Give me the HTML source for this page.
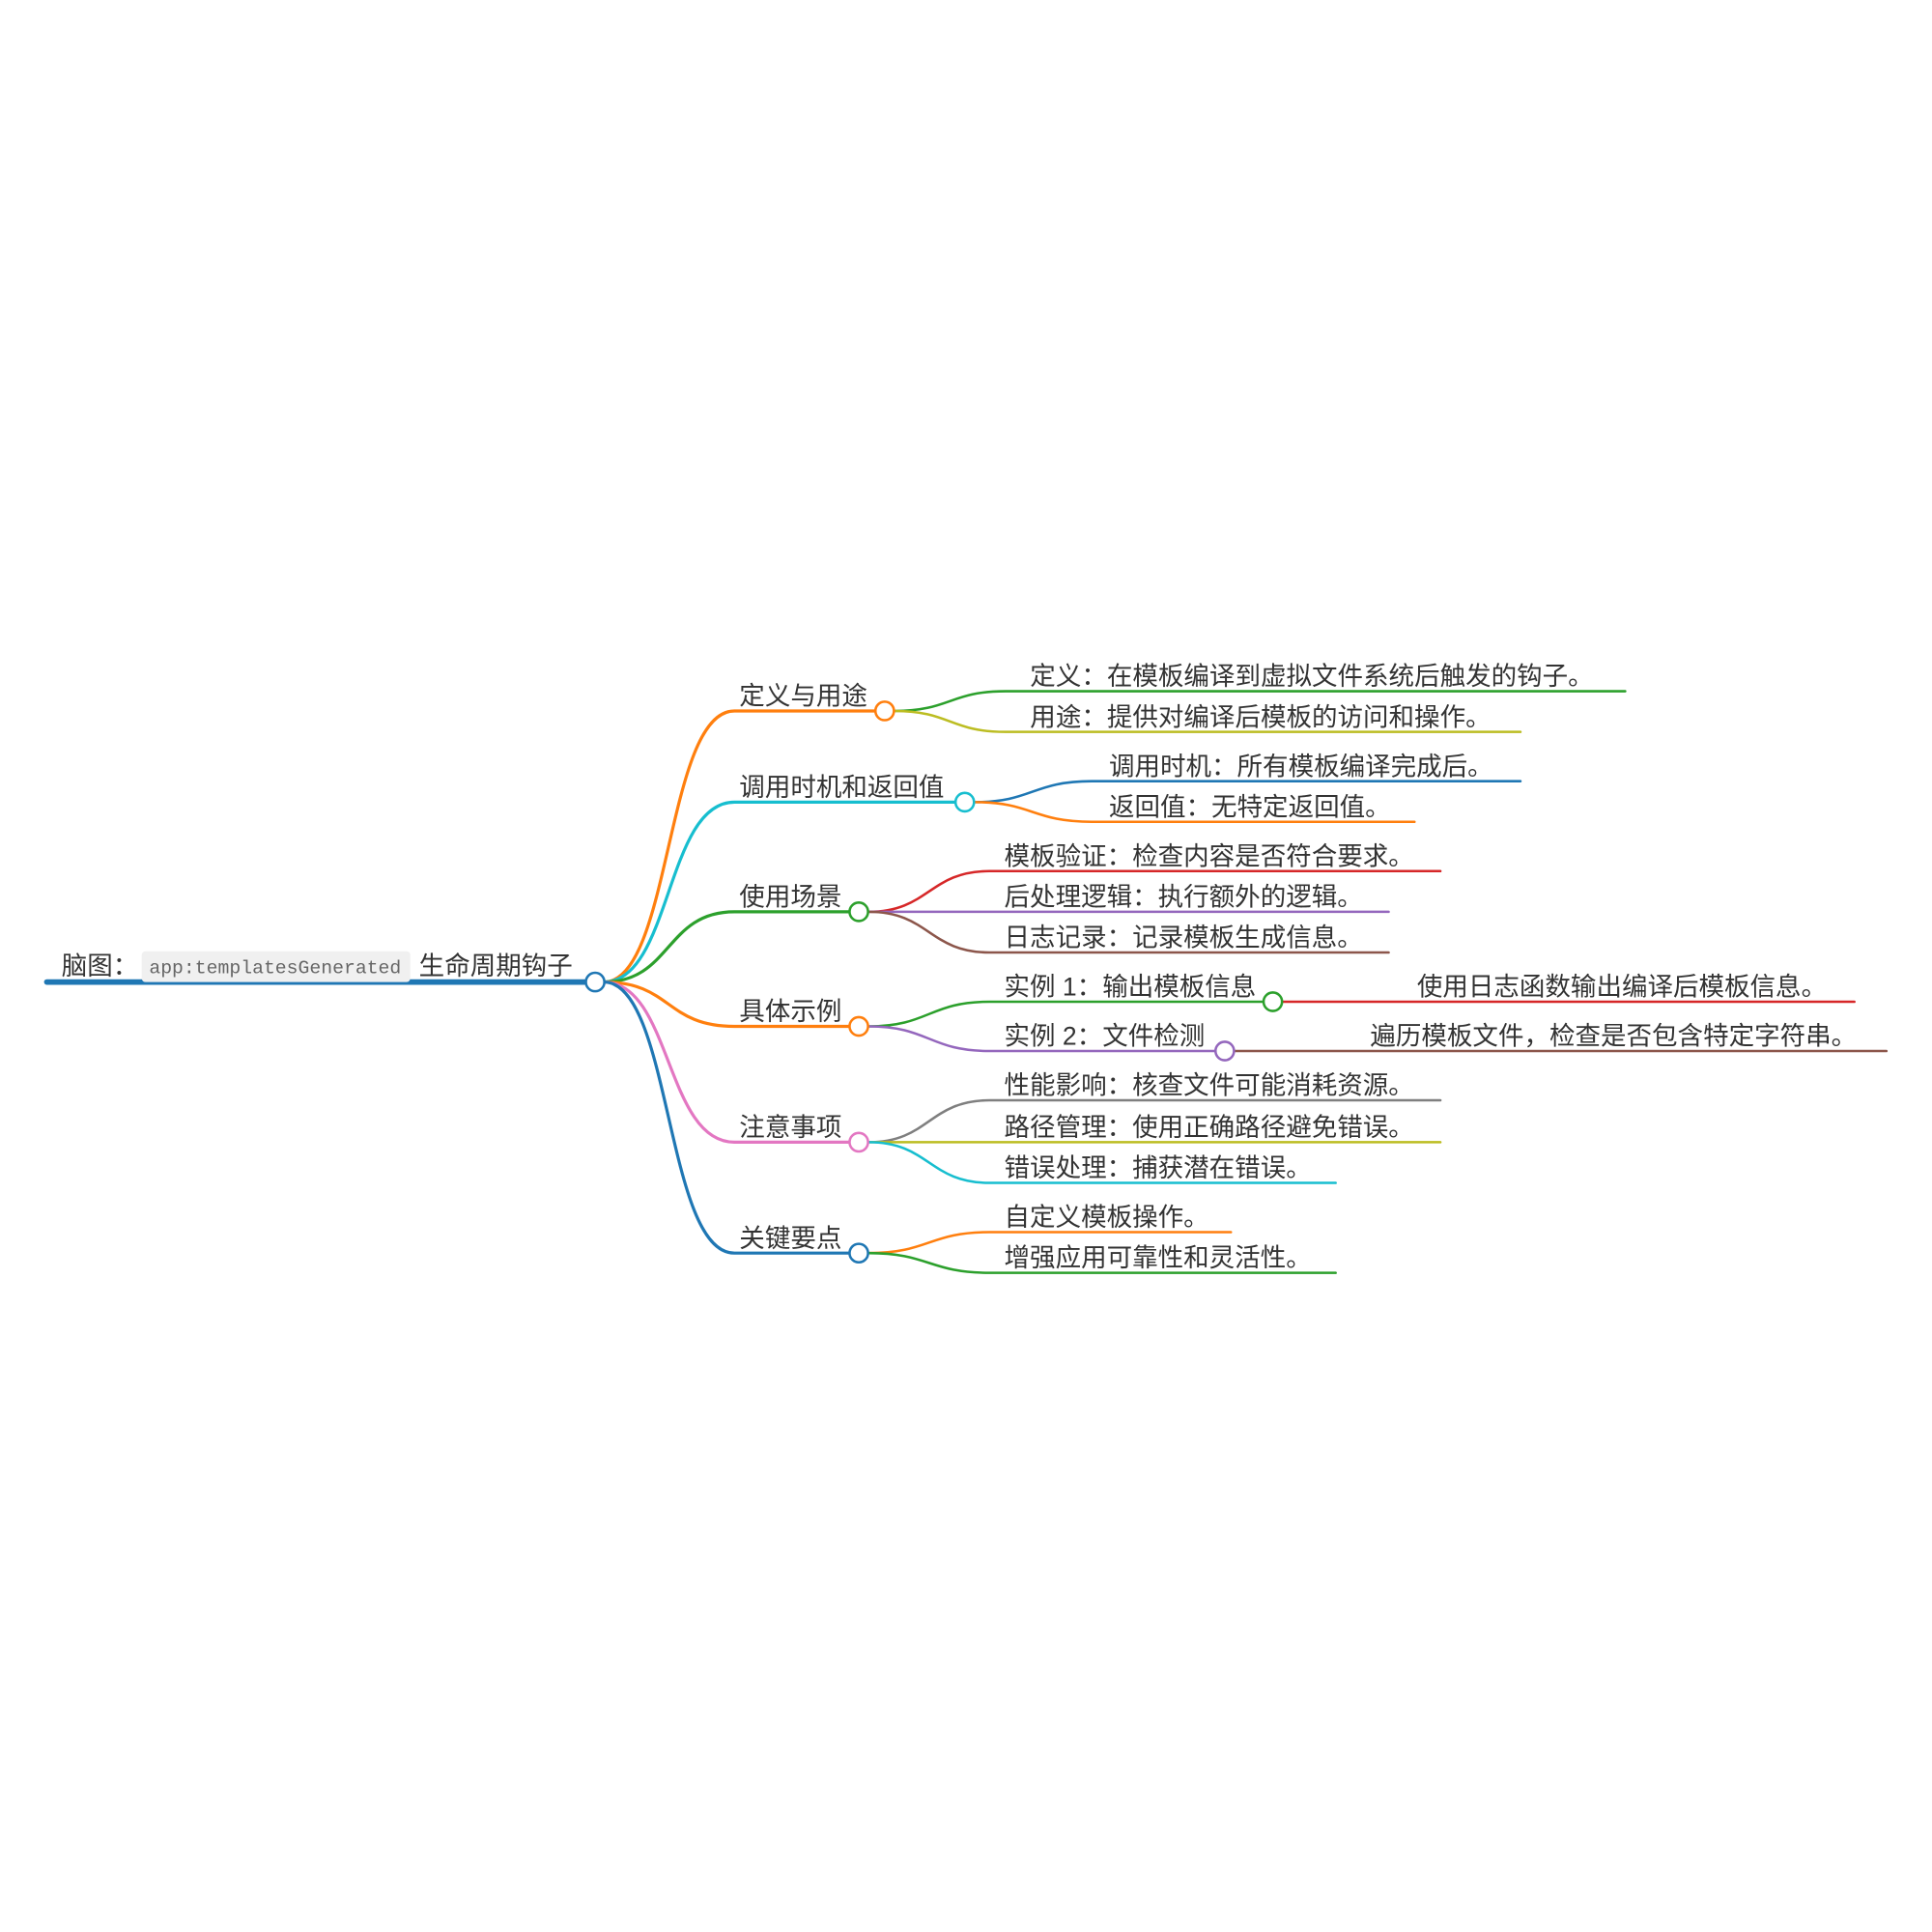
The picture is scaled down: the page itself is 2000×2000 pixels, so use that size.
<!DOCTYPE html>
<html><head><meta charset="utf-8"><style>
html,body{margin:0;padding:0;background:#fff;}
svg{display:block;}
text{font-family:"Liberation Sans","Noto Sans CJK SC",sans-serif;font-size:20.8px;fill:#333;}
</style></head><body>
<svg width="2000" height="2000" viewBox="0 0 1568 1568" xmlns="http://www.w3.org/2000/svg">
<g fill="none" stroke-linecap="round">
<line x1="38" y1="797" x2="475" y2="797" stroke="#1f77b4" stroke-width="4.5"/>
<path d="M490 797 C545 797 540 577 596 577 L710 577" stroke="#ff7f0e" stroke-width="2.5"/>
<path d="M490 797 C545 797 540 651 596 651 L775 651" stroke="#17becf" stroke-width="2.5"/>
<path d="M490 797 C545 797 540 740 596 740 L689 740" stroke="#2ca02c" stroke-width="2.5"/>
<path d="M490 797 C545 797 540 833 596 833 L689 833" stroke="#ff7f0e" stroke-width="2.5"/>
<path d="M490 797 C545 797 540 927 596 927 L689 927" stroke="#e377c2" stroke-width="2.5"/>
<path d="M490 797 C545 797 540 1017 596 1017 L689 1017" stroke="#1f77b4" stroke-width="2.5"/>
<path d="M726 577 C771 577 771 561 816 561 L1319 561" stroke="#2ca02c" stroke-width="2"/>
<path d="M726 577 C771 577 771 594 816 594 L1234 594" stroke="#bcbd22" stroke-width="2"/>
<path d="M791 651 C838 651 838 634 886 634 L1234 634" stroke="#1f77b4" stroke-width="2"/>
<path d="M791 651 C838 651 838 667 886 667 L1148 667" stroke="#ff7f0e" stroke-width="2"/>
<path d="M705 740 C754 740 754 707 803 707 L1169 707" stroke="#d62728" stroke-width="2"/>
<path d="M705 740 L1127 740" stroke="#9467bd" stroke-width="2"/>
<path d="M705 740 C754 740 754 773 803 773 L1127 773" stroke="#8c564b" stroke-width="2"/>
<path d="M705 833 C754 833 754 813 803 813 L1025 813" stroke="#2ca02c" stroke-width="2"/>
<path d="M705 833 C754 833 754 853 803 853 L986 853" stroke="#9467bd" stroke-width="2"/>
<path d="M1041 813 L1505 813" stroke="#d62728" stroke-width="2"/>
<path d="M1002 853 L1531 853" stroke="#8c564b" stroke-width="2"/>
<path d="M705 927 C754 927 754 893 803 893 L1169 893" stroke="#7f7f7f" stroke-width="2"/>
<path d="M705 927 L1169 927" stroke="#bcbd22" stroke-width="2"/>
<path d="M705 927 C754 927 754 960 803 960 L1084 960" stroke="#17becf" stroke-width="2"/>
<path d="M705 1017 C754 1017 754 1000 803 1000 L999 1000" stroke="#ff7f0e" stroke-width="2"/>
<path d="M705 1017 C754 1017 754 1033 803 1033 L1084 1033" stroke="#2ca02c" stroke-width="2"/>
</g>
<g fill="#fff" stroke-width="2">
<circle cx="483" cy="797" r="7.5" stroke="#1f77b4"/>
<circle cx="718" cy="577" r="7.5" stroke="#ff7f0e"/>
<circle cx="783" cy="651" r="7.5" stroke="#17becf"/>
<circle cx="697" cy="740" r="7.5" stroke="#2ca02c"/>
<circle cx="697" cy="833" r="7.5" stroke="#ff7f0e"/>
<circle cx="697" cy="927" r="7.5" stroke="#e377c2"/>
<circle cx="697" cy="1017" r="7.5" stroke="#1f77b4"/>
<circle cx="1033" cy="813" r="7.5" stroke="#2ca02c"/>
<circle cx="994" cy="853" r="7.5" stroke="#9467bd"/>
</g>
<rect x="115" y="772" width="218" height="25" rx="3" fill="#f0f0f0"/>
<text x="50" y="791">脑图：</text>
<text x="121" y="790" style="font-family:'Liberation Mono',monospace;font-size:15.5px;fill:#666">app:templatesGenerated</text>
<text x="340" y="791">生命周期钩子</text>
<text x="600" y="572">定义与用途</text>
<text x="600" y="646">调用时机和返回值</text>
<text x="600" y="735">使用场景</text>
<text x="600" y="828">具体示例</text>
<text x="600" y="922">注意事项</text>
<text x="600" y="1012">关键要点</text>
<text x="836" y="556">定义：在模板编译到虚拟文件系统后触发的钩子。</text>
<text x="836" y="589">用途：提供对编译后模板的访问和操作。</text>
<text x="900" y="629">调用时机：所有模板编译完成后。</text>
<text x="900" y="662">返回值：无特定返回值。</text>
<text x="815" y="702">模板验证：检查内容是否符合要求。</text>
<text x="815" y="735">后处理逻辑：执行额外的逻辑。</text>
<text x="815" y="768">日志记录：记录模板生成信息。</text>
<text x="815" y="808">实例 1：输出模板信息</text>
<text x="1150" y="808">使用日志函数输出编译后模板信息。</text>
<text x="815" y="848">实例 2：文件检测</text>
<text x="1112" y="848">遍历模板文件，检查是否包含特定字符串。</text>
<text x="815" y="888">性能影响：核查文件可能消耗资源。</text>
<text x="815" y="922">路径管理：使用正确路径避免错误。</text>
<text x="815" y="955">错误处理：捕获潜在错误。</text>
<text x="815" y="995">自定义模板操作。</text>
<text x="815" y="1028">增强应用可靠性和灵活性。</text>
</svg>
</body></html>
